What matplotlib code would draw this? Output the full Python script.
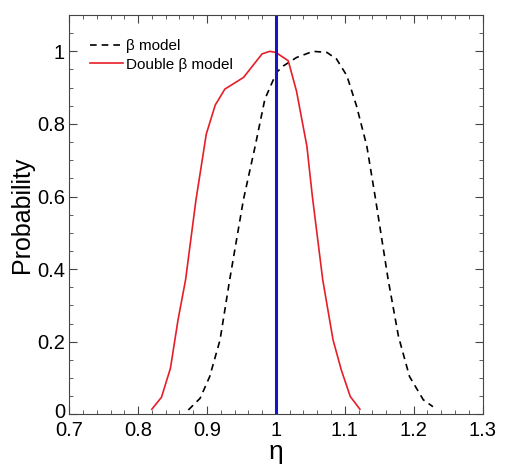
import matplotlib
matplotlib.use('Agg')
import matplotlib.pyplot as plt
import matplotlib.transforms as mtransforms
from matplotlib.ticker import MultipleLocator

plt.rcParams['font.family'] = ['Liberation Sans', 'DejaVu Sans']

# beta model (dashed black)
eta_beta = [0.873, 0.890, 0.904, 0.919, 0.933, 0.953, 0.970, 0.984, 1.001, 1.011,
            1.030, 1.054, 1.074, 1.088, 1.103, 1.117, 1.132, 1.144, 1.163, 1.178,
            1.194, 1.214, 1.228]
p_beta = [0.012, 0.044, 0.104, 0.205, 0.371, 0.592, 0.739, 0.868, 0.942, 0.960,
          0.983, 1.000, 0.997, 0.979, 0.933, 0.850, 0.739, 0.601, 0.371, 0.214,
          0.104, 0.040, 0.021]

# double beta model (red)
eta_double = [0.820, 0.834, 0.847, 0.858, 0.869, 0.884, 0.899, 0.912, 0.926, 0.953,
              0.980, 0.991, 1.000, 1.018, 1.030, 1.045, 1.053, 1.068, 1.083, 1.095,
              1.108, 1.122]
p_double = [0.014, 0.047, 0.127, 0.260, 0.371, 0.590, 0.772, 0.852, 0.896, 0.928,
            0.993, 1.000, 0.997, 0.974, 0.890, 0.739, 0.600, 0.371, 0.205, 0.122,
            0.049, 0.014]

eta_true = 1.0

fig = plt.figure(figsize=(5.2, 4.7), dpi=100)
ax = fig.add_axes([0.133, 0.1185, 0.795, 0.8495])

ax.plot(eta_beta, p_beta, color='black', lw=1.2, ls=(0, (4, 3)), label='β model')
ax.plot(eta_double, p_double, color='#e61e28', lw=1.2, label='Double β model')
ax.axvline(eta_true, color='#1414c8', lw=2.2)

ax.set_xlim(0.7, 1.3)
ax.set_ylim(0, 1.1)
ax.set_xticks([0.7, 0.8, 0.9, 1.0, 1.1, 1.2, 1.3])
ax.set_xticklabels(['0.7', '0.8', '0.9', '1', '1.1', '1.2', '1.3'])
ax.set_yticks([0, 0.2, 0.4, 0.6, 0.8, 1.0])
ax.set_yticklabels(['0', '0.2', '0.4', '0.6', '0.8', '1'])
ax.xaxis.set_minor_locator(MultipleLocator(0.02))
ax.yaxis.set_minor_locator(MultipleLocator(0.05))
ax.tick_params(which='both', direction='in', top=True, right=True, color='#444444')
ax.tick_params(which='major', length=6, labelsize=14.5)
ax.tick_params(axis='x', which='major', pad=5)
ax.tick_params(axis='y', which='major', pad=3)
ax.tick_params(which='minor', length=3)
for s in ax.spines.values():
    s.set_color('#444444')

# nudge the y "0" label up a touch so it doesn't sit on top of "0.7"
lab0 = ax.get_yticklabels()[0]
lab0.set_transform(lab0.get_transform() + mtransforms.ScaledTranslation(0, 3/72, fig.dpi_scale_trans))

ax.set_xlabel('η', fontsize=19, labelpad=0)
ax.set_ylabel('Probability', fontsize=18, labelpad=2)

ax.legend(loc='upper left', frameon=False, fontsize=11, handlelength=2.2,
          handletextpad=0.2, borderaxespad=0.4, labelspacing=0.3,
          bbox_to_anchor=(0.02, 0.97))

fig.savefig('out.png', dpi=100)
